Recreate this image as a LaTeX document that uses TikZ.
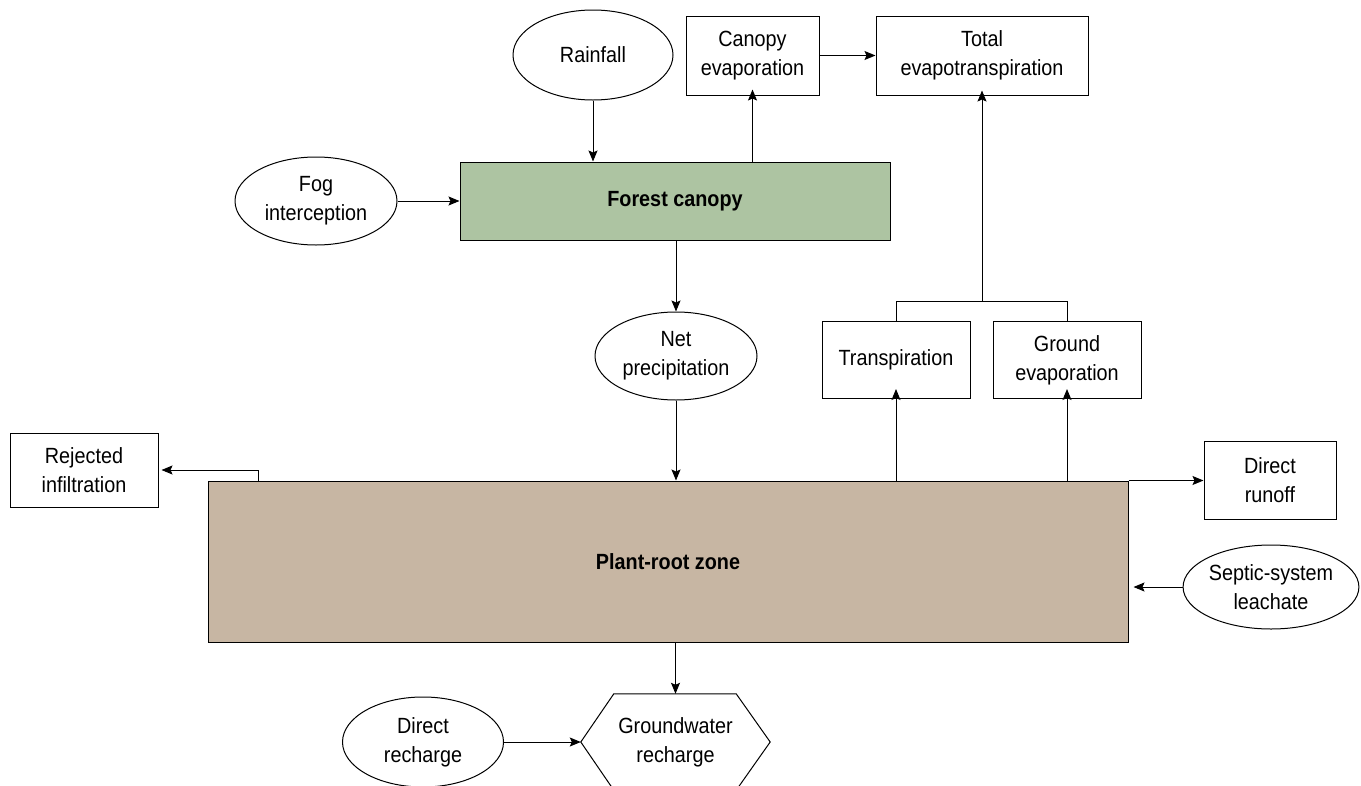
\documentclass[tikz,border=0pt]{standalone}
\usepackage{fontspec}
\setmainfont[FakeStretch=0.9]{Liberation Sans}
\usetikzlibrary{arrows.meta,shapes.geometric}

\definecolor{canopygreen}{HTML}{ADC4A2}
\definecolor{rootbrown}{HTML}{C7B6A3}

\tikzset{
    every node/.style={font=\fontsize{22}{29}\selectfont, align=center, inner sep=0pt},
    box/.style={draw, fill=white, line width=1pt},
    oval/.style={draw, ellipse, fill=white, line width=1pt},
    flow/.style={line width=1pt, -{Stealth[length=11pt,width=9pt,inset=2pt]}},
}

\begin{document}
\begin{tikzpicture}[x=1pt, y=-1pt]
    \clip (0,0) rectangle (1361,785);

    % Inputs at the top
    \node[oval, minimum width=160, minimum height=90] (rain) at (593,55) {Rainfall};
    \node[oval, minimum width=162, minimum height=88] (fog) at (316,201) {Fog\\interception};
    \node[box, minimum width=133, minimum height=79] (canevap) at (752.5,55.5) {Canopy\\evaporation};
    \node[box, minimum width=212, minimum height=79] (totalet) at (982,55.5) {Total\\evapotranspiration};

    % Forest canopy
    \node[draw, fill=canopygreen, line width=1pt, minimum width=430, minimum height=78,
          font=\fontsize{22}{29}\selectfont\bfseries] (forest) at (675,201) {Forest canopy};
    \node[oval, minimum width=162, minimum height=88] (netp) at (676,356) {Net\\precipitation};

    % Evapotranspiration parts
    \node[box, minimum width=148, minimum height=77] (transp) at (896,360) {Transpiration};
    \node[box, minimum width=148, minimum height=77] (gevap) at (1067,360) {Ground\\evaporation};

    % Plant-root zone and its neighbours
    \node[draw, fill=rootbrown, line width=1pt, minimum width=920, minimum height=161,
          font=\fontsize{22}{29}\selectfont\bfseries] (root) at (668,561.5) {Plant-root zone};
    \node[box, minimum width=148, minimum height=74] (rejinf) at (84,470) {Rejected\\infiltration};
    \node[box, minimum width=132, minimum height=78] (runoff) at (1270,480) {Direct\\runoff};
    \node[oval, minimum width=160, minimum height=84] (septic) at (1271,587) {Septic-system\\leachate};

    % Recharge
    \node[minimum width=189, minimum height=96] (gwr) at (675.5,742) {Groundwater\\recharge};
    \draw[line width=1pt] (gwr.west) -- ([xshift=33]gwr.north west) -- ([xshift=-34]gwr.north east)
        -- (gwr.east) -- ([xshift=-34]gwr.south east) -- ([xshift=33]gwr.south west) -- cycle;
    \node[oval, minimum width=161, minimum height=90] (drech) at (423,742) {Direct\\recharge};

    % Connectors
    \draw[flow] (rain.south) -- (rain.south |- forest.north);
    \draw[flow] (canevap.south |- forest.north) -- ([yshift=6]canevap.south);
    \draw[flow] (canevap.east) -- (totalet.west);
    \draw[flow] (fog.east) -- (forest.west);
    \draw[flow] (netp.north |- forest.south) -- (netp.north);
    \draw[flow] (netp.south) -- (netp.south |- root.north);
    \draw[flow] ([xshift=51]root.north west) |- ([xshift=3]rejinf.east);
    \draw[flow] (transp.south |- root.north) -- ([yshift=10]transp.south);
    \draw[flow] (gevap.south |- root.north) -- ([yshift=10]gevap.south);
    \draw[flow] (root.north east) -- (root.north east -| runoff.west);
    \draw[flow] (septic.west) -- ([xshift=5]septic.west -| root.east);
    \draw[flow] (gwr.north |- root.south) -- (gwr.north);
    \draw[flow] (drech.east) -- (gwr.west);

    % Bracket into total evapotranspiration
    \coordinate (join) at (totalet.south |- 0,301);
    \draw[line width=1pt] (transp.north) |- (gevap.north |- join) -- (gevap.north);
    \draw[flow] (join) -- ([yshift=5]totalet.south);
\end{tikzpicture}
\end{document}
